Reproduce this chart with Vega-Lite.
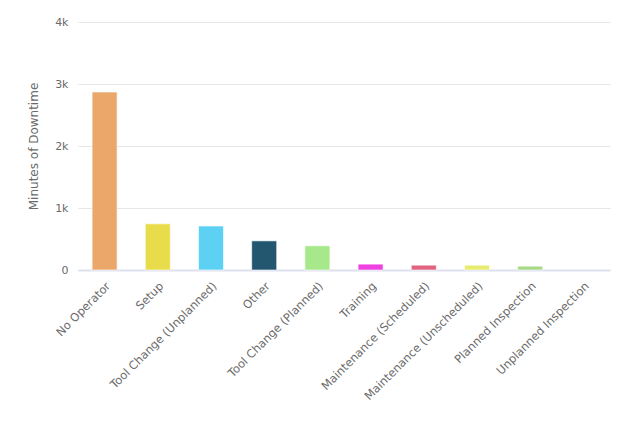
{
  "$schema": "https://vega.github.io/schema/vega-lite/v6.json",
  "width": 532,
  "height": 248,
  "autosize": {"type": "none"},
  "padding": {"left": 78, "top": 22, "right": 30, "bottom": 154},
  "background": "white",
  "data": {
    "values": [
      {"reason": "No Operator", "minutes": 2870, "color": "#EBA66A"},
      {"reason": "Setup", "minutes": 745, "color": "#E9DC4A"},
      {"reason": "Tool Change (Unplanned)", "minutes": 710, "color": "#5DD1F4"},
      {"reason": "Other", "minutes": 470, "color": "#23566F"},
      {"reason": "Tool Change (Planned)", "minutes": 390, "color": "#A6E88A"},
      {"reason": "Training", "minutes": 95, "color": "#EE41E2"},
      {"reason": "Maintenance (Scheduled)", "minutes": 78, "color": "#E0647E"},
      {"reason": "Maintenance (Unscheduled)", "minutes": 78, "color": "#E8EC6E"},
      {"reason": "Planned Inspection", "minutes": 62, "color": "#A6DA86"},
      {"reason": "Unplanned Inspection", "minutes": 0, "color": "#8BBCE8"}
    ]
  },
  "mark": {"type": "bar", "stroke": "white", "strokeWidth": 1},
  "encoding": {
    "x": {
      "field": "reason",
      "type": "nominal",
      "sort": null,
      "scale": {"paddingInner": 0.53, "paddingOuter": 0.265},
      "axis": {
        "title": null,
        "labelAngle": -45,
        "labelAlign": "right",
        "labelBaseline": "top",
        "labelPadding": 10,
        "ticks": false,
        "domainColor": "#dde0ef",
        "domainWidth": 2,
        "labelFont": "DejaVu Sans",
        "labelFontSize": 11.5,
        "labelColor": "#6b6b6b",
        "labelLimit": 300
      }
    },
    "y": {
      "field": "minutes",
      "type": "quantitative",
      "scale": {"domain": [0, 4000], "nice": false},
      "axis": {
        "title": "Minutes of Downtime",
        "labelExpr": "datum.value == 0 ? '0' : (datum.value / 1000) + 'k'",
        "values": [0, 1000, 2000, 3000, 4000],
        "ticks": false,
        "domain": false,
        "labelPadding": 10,
        "labelFont": "DejaVu Sans",
        "labelFontSize": 11,
        "labelColor": "#6b6b6b",
        "titleFont": "DejaVu Sans",
        "titleFontSize": 12,
        "titleFontWeight": "normal",
        "titleColor": "#6b6b6b",
        "titlePadding": 14,
        "gridColor": "#e6e6e6",
        "gridWidth": 1
      }
    },
    "color": {"field": "color", "type": "nominal", "scale": null, "legend": null},
    "strokeOpacity": {"condition": {"test": "datum.minutes == 0", "value": 0}, "value": 0.6}
  },
  "config": {"view": {"stroke": null}}
}
